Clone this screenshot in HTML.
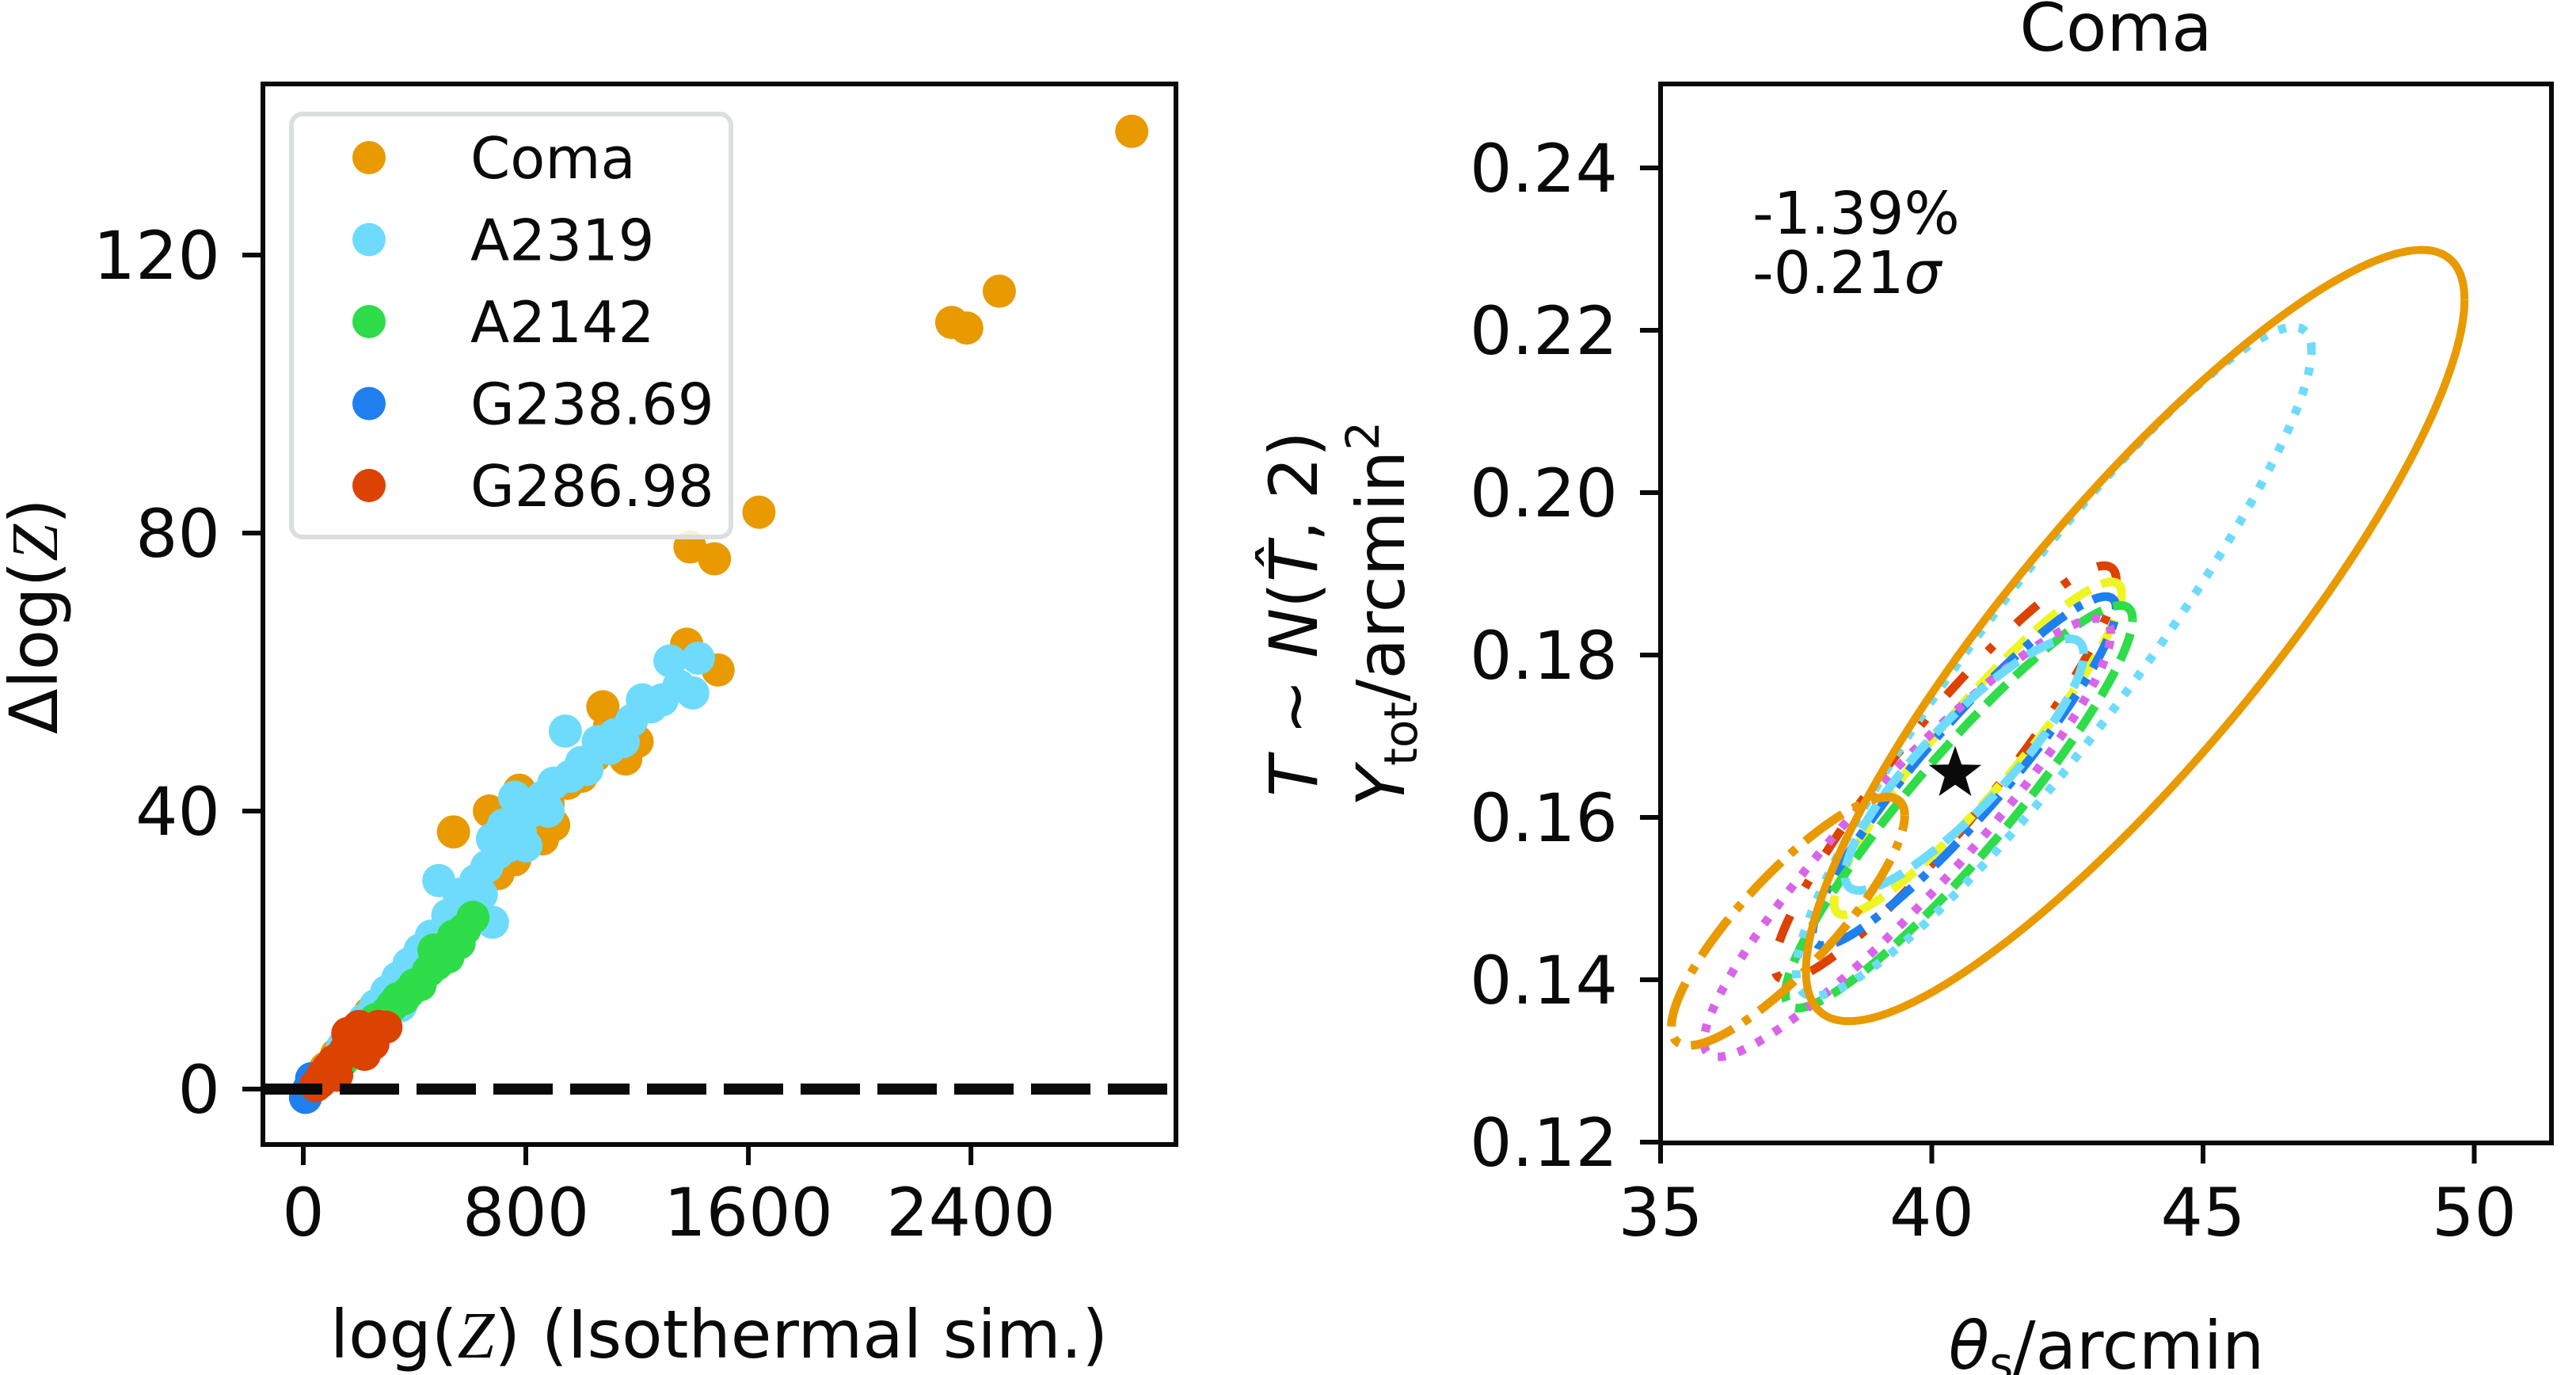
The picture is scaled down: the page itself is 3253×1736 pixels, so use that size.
<!DOCTYPE html>
<html><head><meta charset="utf-8">
<style>
html,body{margin:0;padding:0;background:#fff;}
svg{display:block;}
text{font-family:"DejaVu Sans","Liberation Sans",sans-serif;fill:#0a0a0a;}
</style></head>
<body>
<svg id="fig" width="3253" height="1736" viewBox="0 0 3253 1736" xmlns="http://www.w3.org/2000/svg">
  <g id="left"></g>
  <g id="right"></g>
</svg>
<script>
// ---------- Left panel data ----------
const seriesNames = ["Coma","A2319","A2142","G238.69","G286.98"];
const seriesColors = ["#E89A00","#6EDBFC","#2FDC4A","#1F7FEE","#DC4200"];
const comaX = [2978,2502,2331,2385,1638,1390,1478,1378,1491,1077,1159,540,669,777,1100,1200,950,880,820,720,640,600,560,480,420,380,330,280,240,200,160,120,80,700,900,1000,1050,860,760,520];
const comaY = [137.8,114.8,110.3,109.5,83,78,76.3,64,60.3,55,47.5,37,40,43,52,50,44,41,38,35,30,27,24,22,19,17,15,12,11,9,7,5,3,31,38,45,48,36,33,25];
const a2319X = [1318,1350,1290,1219,1180,1120,1060,942,1000,960,900,860,820,780,740,700,660,620,640,600,680,560,487,520,460,420,380,340,300,350,260,220,180,140,720,800,880,1020,1100,1400,1250,1150,760,680,580,1420];
const a2319Y = [61.6,58,56,56,53,51,50,51.5,47,45,44,42,40,37,35,34,32,30,28,26,24,28,30,25,22,20,18,16,14,12,12,10,8,6,38,35,40,46,49,57,55,50,42,36,27,62];
const a2142X = [610,580,560,540,520,500,480,450,420,400,380,360,340,320,300,280,260,240,220,200,180,160,140,120,100,470];
const a2142Y = [24.7,23,21,22,19,19,18,17,15,15,14,13,13,12,11,10,10,9,8,7,6,5,4,3.5,3,20];
const g238X = [8,20,30];
const g238Y = [-1.2,0,1.5];
const g286X = [297,270,250,230,210,190,170,150,130,110,90,70,60,45,200,160,250,220,120];
const g286Y = [8.9,9,8.5,8,7.5,7,6,5.5,4.5,4,3,2,1,0.5,9,8,6.5,5,2];
const leftXTicks = [0,800,1600,2400];
const leftYTicks = [0,40,80,120];

// ---------- Right panel data ----------
const ellNames = ["orange-solid","orange-dashdot","cyan-dotted","cyan-dashed","magenta-dotted","green-dashed","blue-dashdot","yellow-dashed","red-dashdot"];
const ellCx = [43.75,37.35,42.25,40.6,39.55,40.5,40.6,40.85,40.25];
const ellCy = [0.1824,0.1472,0.1792,0.1665,0.1575,0.1613,0.1657,0.1685,0.1655];
const ellSx = [6.07,2.15,4.75,2.2,3.75,3.2,2.8,2.65,3.15];
const ellSy = [0.0475,0.0153,0.0412,0.0155,0.027,0.0248,0.0215,0.0205,0.0255];
const ellRho = [0.87,0.85,0.93,0.88,0.93,0.93,0.93,0.93,0.93];
const ellColors = ["#E89A00","#E89A00","#6EDBFC","#6EDBFC","#D865E8","#2FDC4A","#1F7FEE","#EEF524","#DC4200"];
const ellDash = ["","58,15,10,15","10,16","36,15","10,16","36,15","40,15,10,15","36,15","36,40,10,40"];
const truthX = [40.43];
const truthY = [0.1654];
const rightXTicks = [35,40,45,50];
const rightYTicks = [0.12,0.14,0.16,0.18,0.20,0.22,0.24];

const NS="http://www.w3.org/2000/svg";
function mk(tag, attrs, parent){const e=document.createElementNS(NS,tag);for(const k in attrs)e.setAttribute(k,attrs[k]);parent.appendChild(e);return e;}
const FS=84;

// ----- Left axes -----
const L={x0:332,x1:1485,y0:106,y1:1445};
const lxs=v=>383+v*0.3513;
const lys=v=>1375-v*8.775;
const left=document.getElementById('left');
const lpts=mk('g',{},left);


const allX=[comaX,a2319X,a2142X,g238X,g286X], allY=[comaY,a2319Y,a2142Y,g238Y,g286Y];
for(let s=0;s<5;s++){
  const g=mk('g',{fill:seriesColors[s]},lpts);
  
  
  for(let i=0;i<allX[s].length;i++){
    const c=mk('circle',{cx:lxs(allX[s][i]),cy:lys(allY[s][i]),r:21},g);
    
    
  }
}
const zl=mk('line',{x1:L.x0,x2:L.x1,y1:lys(0),y2:lys(0),stroke:'#0a0a0a','stroke-width':14,'stroke-dasharray':'75,22'},left);


const lframe=mk('rect',{x:L.x0,y:L.y0,width:L.x1-L.x0,height:L.y1-L.y0,fill:'none',stroke:'#0a0a0a','stroke-width':6},left);


leftXTicks.forEach(v=>{
  const t=mk('line',{x1:lxs(v),x2:lxs(v),y1:L.y1,y2:L.y1+26,stroke:'#0a0a0a','stroke-width':6},left);
  
  
  const tx=mk('text',{x:lxs(v),y:1560,'font-size':FS,'text-anchor':'middle'},left);
  tx.textContent=v;
  
  
});
leftYTicks.forEach(v=>{
  const t=mk('line',{x1:L.x0-26,x2:L.x0,y1:lys(v),y2:lys(v),stroke:'#0a0a0a','stroke-width':6},left);
  
  
  const tx=mk('text',{x:278,y:lys(v)+30,'font-size':FS,'text-anchor':'end'},left);
  tx.textContent=v;
  
  
});
// legend
const leg=mk('g',{},left);


mk('rect',{x:368,y:144,width:555,height:534,rx:14,fill:'#fff','fill-opacity':0.85,stroke:'#dcdfdf','stroke-width':6},leg);
seriesNames.forEach((n,i)=>{
  const y=199+i*103.5;
  const g=mk('g',{},leg);
  
  
  mk('circle',{cx:466,cy:y,r:21,fill:seriesColors[i]},g);
  const t=mk('text',{x:594,y:y+26,'font-size':72},g);
  t.textContent=n;
});
// axis labels
const lxl=mk('text',{x:908,y:1714,'font-size':FS,'text-anchor':'middle'},left);
lxl.innerHTML='log(<tspan font-family="Liberation Serif, serif" font-style="italic">Z</tspan>) (Isothermal sim.)';


const lyl=mk('text',{x:0,y:0,'font-size':FS,'text-anchor':'middle',transform:'translate(72,778) rotate(-90)'},left);
lyl.innerHTML='Δlog(<tspan font-family="Liberation Serif, serif" font-style="italic">Z</tspan>)';



// ----- Right axes -----
const R={x0:2097,x1:3222,y0:106,y1:1443};
const rxs=v=>2097+(v-35)*68.5;
const rys=v=>1442-(v-0.12)/0.02*205;
const right=document.getElementById('right');
const cg=mk('g',{fill:'none'},right);


for(let k=ellNames.length-1;k>=0;k--){
  let d='';
  const q=Math.sqrt(1-ellRho[k]*ellRho[k]);
  for(let i=0;i<=240;i++){
    const t=i/240*2*Math.PI;
    const x=ellCx[k]+ellSx[k]*Math.cos(t);
    const y=ellCy[k]+ellSy[k]*(ellRho[k]*Math.cos(t)+q*Math.sin(t));
    d+=(i?'L':'M')+rxs(x).toFixed(1)+','+rys(y).toFixed(1);
  }
  const p=mk('path',{d:d,stroke:ellColors[k],'stroke-width':k===0?10:11},cg);
  if(ellDash[k])p.setAttribute('stroke-dasharray',ellDash[k]);
  
  
}
// star
const sx=rxs(truthX[0]), sy=rys(truthY[0]);
let sp='';
for(let i=0;i<10;i++){const a=-Math.PI/2+i*Math.PI/5;const r=i%2?14:35;sp+=(sx+r*Math.cos(a)).toFixed(1)+','+(sy+r*Math.sin(a)).toFixed(1)+' ';}
const star=mk('polygon',{points:sp,fill:'#0a0a0a'},right);


const rframe=mk('rect',{x:R.x0,y:R.y0,width:R.x1-R.x0,height:R.y1-R.y0,fill:'none',stroke:'#0a0a0a','stroke-width':6},right);


rightXTicks.forEach(v=>{
  const t=mk('line',{x1:rxs(v),x2:rxs(v),y1:R.y1,y2:R.y1+26,stroke:'#0a0a0a','stroke-width':6},right);
  
  
  const tx=mk('text',{x:rxs(v),y:1560,'font-size':FS,'text-anchor':'middle'},right);
  tx.textContent=v;
  
  
});
rightYTicks.forEach(v=>{
  const t=mk('line',{x1:R.x0-26,x2:R.x0,y1:rys(v),y2:rys(v),stroke:'#0a0a0a','stroke-width':6},right);
  
  
  const tx=mk('text',{x:2043,y:rys(v)+30,'font-size':FS,'text-anchor':'end'},right);
  tx.textContent=v.toFixed(2);
  
  
});
const title=mk('text',{x:2672,y:64,'font-size':FS,'text-anchor':'middle'},right);
title.textContent='Coma';


const a1=mk('text',{x:2213,y:295,'font-size':74},right);
a1.textContent='-1.39%';


const a2=mk('text',{x:2213,y:370,'font-size':74},right);
a2.innerHTML='-0.21<tspan font-style="italic">σ</tspan>';


const rxl=mk('text',{x:2660,y:1728,'font-size':FS,'text-anchor':'middle'},right);
rxl.innerHTML='<tspan font-style="italic">θ</tspan><tspan font-size="58" dy="14">s</tspan><tspan dy="-14">/arcmin</tspan>';


const ry1=mk('text',{x:0,y:0,'font-size':FS,'text-anchor':'middle',transform:'translate(1663,775) rotate(-90)'},right);
ry1.innerHTML='<tspan font-style="italic">T</tspan> ~ <tspan font-style="italic">N</tspan>(<tspan font-style="italic">T̂</tspan>, 2)';


const ry2=mk('text',{x:0,y:0,'font-size':FS,'text-anchor':'middle',transform:'translate(1773,775) rotate(-90)'},right);
ry2.innerHTML='<tspan font-style="italic">Y</tspan><tspan font-size="58" dy="16">tot</tspan><tspan dy="-16">/arcmin</tspan><tspan font-size="58" dy="-32">2</tspan>';


</script>
</body></html>
